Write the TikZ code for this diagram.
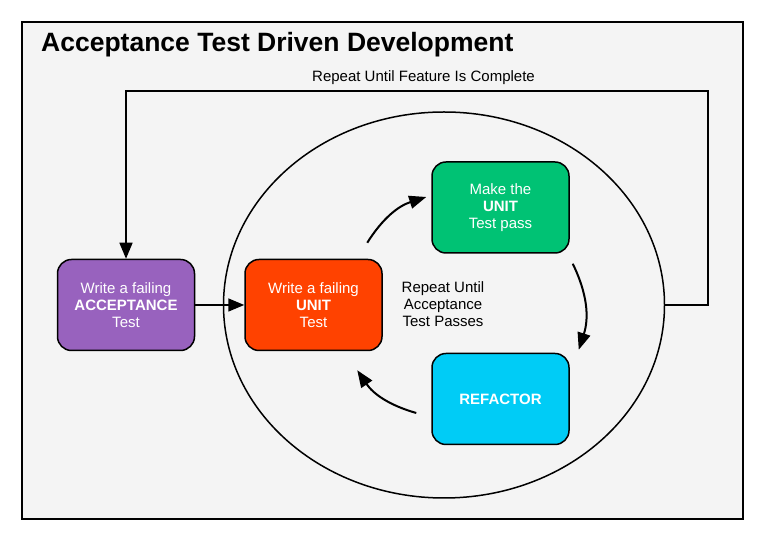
\documentclass[tikz,border=0pt]{standalone}
\usepackage{fontspec}
\setmainfont{Liberation Sans}
\usetikzlibrary{arrows.meta,shapes.geometric}
\definecolor{accpurple}{RGB}{152,98,190}
\definecolor{unitred}{RGB}{255,66,0}
\definecolor{passgreen}{RGB}{0,194,116}
\definecolor{refcyan}{RGB}{0,204,246}
\definecolor{bggray}{RGB}{244,244,244}

\begin{document}
\begin{tikzpicture}[x=1pt,y=1pt,
        every node/.style={font=\fontsize{15}{17}\selectfont},
        stepbox/.style={draw, line width=1.5pt, rounded corners=14pt, minimum width=137pt, minimum height=91pt, inner sep=0pt, align=center, text=white},
        feedarrow/.style={line width=1.5pt, -{Triangle[length=16pt,width=13pt]}},
        looparrow/.style={line width=2pt, -{Triangle[length=17pt,width=13pt]}}]
        \useasboundingbox (0,0) rectangle (763,540);
        \draw [fill=bggray, line width=1.5pt] (22,21) rectangle (743,518);
        \node [anchor=base west, inner sep=0pt, font=\fontsize{26.5}{30}\selectfont\bfseries] (title) at (41,488) {Acceptance Test Driven Development};
        \node [anchor=base] (repeat) at (423.5,458) {Repeat Until Feature Is Complete};
        \node [draw, ellipse, line width=1.5pt, minimum width=441pt, minimum height=386pt] (loop) at (444,235) {};
        \node [stepbox, fill=accpurple] (accept) at (126,235) {Write a failing\\\textbf{ACCEPTANCE}\\Test};
        \node [stepbox, fill=unitred] (unit) at (313.5,235) {Write a failing\\\textbf{UNIT}\\Test};
        \node [stepbox, fill=passgreen] (pass) at (500.5,332.5) {Make the\\\textbf{UNIT}\\Test pass};
        \node [stepbox, fill=refcyan, font=\fontsize{15}{17}\selectfont\bfseries] (refactor) at (500.5,141) {REFACTOR};
        \node [align=center] (until) at (443,236) {Repeat Until\\Acceptance\\Test Passes};
        % outer loop back to the acceptance test
        \coordinate (ne) at (708,449);
        \coordinate (nw) at (126,449);
        \draw [feedarrow] (loop.east) -| (ne) -- (nw) -- (accept.north);
        \draw [feedarrow] (accept) -- (unit);
        % inner red-green-refactor cycle
        \draw [looparrow] ([shift={(-15.5,16)}]unit.north east) to [bend left=20] ([shift={(-5,10.5)}]pass.west);
        \draw [looparrow] ([shift={(3,-10)}]pass.south east) to [bend left=22] ([shift={(9,3)}]refactor.north east);
        \draw [looparrow] ([shift={(-15,-14)}]refactor.west) to [bend left=20] ([shift={(-25.5,-19)}]unit.south east);
\end{tikzpicture}
\end{document}
